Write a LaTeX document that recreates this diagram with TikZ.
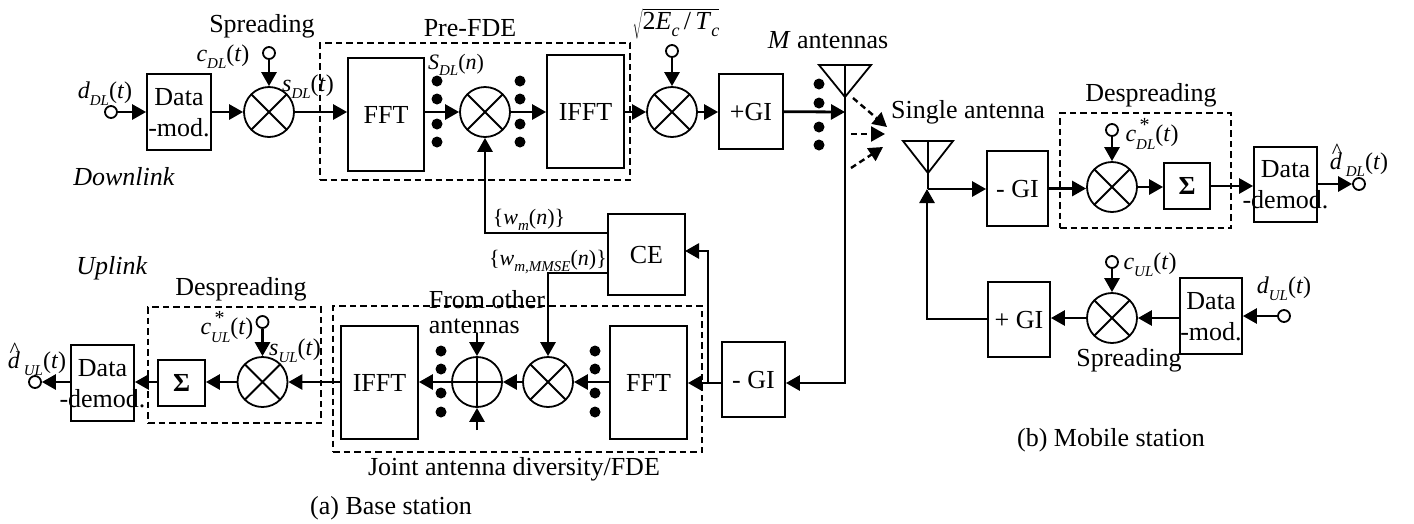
\documentclass[tikz,border=0pt]{standalone}
\usepackage{fontspec}
\setmainfont{Liberation Serif}
\usetikzlibrary{
  arrows.meta,
  positioning,
  calc
}
% italic symbol with a lowered index
\newcommand{\lowidx}[1]{\raisebox{-0.3em}{\fontsize{15}{15}\selectfont\textit{#1}}}
\newcommand{\sig}[2]{\textit{#1}\lowidx{#2}}
\newcommand{\sigstar}[2]{\textit{#1}\rlap{\raisebox{0.42em}{\fontsize{20}{20}\selectfont\,*}}\lowidx{#2}}
\newcommand{\sighat}[2]{\rlap{\kern0.08em\raisebox{0.46em}{\fontsize{22}{22}\selectfont\^{}}}\textit{#1}\,\lowidx{#2}}

\begin{document}
\begin{tikzpicture}[
  x=1pt, y=-1pt,
  every node/.style={font=\fontsize{26}{31}\selectfont},
  blockbox/.style={draw, line width=1.8pt, inner sep=0pt, align=center, text depth=0pt},
  dashbox/.style={draw, line width=2.4pt, dash pattern=on 6.5pt off 4pt, inner sep=0pt},
  mulnode/.style={draw, circle, line width=1.8pt, inner sep=0pt, minimum size=50pt,
    path picture={\draw[line width=1.8pt] (path picture bounding box.north west) -- (path picture bounding box.south east)
      (path picture bounding box.north east) -- (path picture bounding box.south west);}},
  addnode/.style={draw, circle, line width=1.8pt, inner sep=0pt, minimum size=50pt,
    path picture={\draw[line width=1.8pt] (path picture bounding box.north) -- (path picture bounding box.south)
      (path picture bounding box.east) -- (path picture bounding box.west);}},
  srcnode/.style={draw, circle, line width=1.8pt, inner sep=0pt, minimum size=12pt},
  dotnode/.style={fill, circle, inner sep=0pt, minimum width=9.5pt, minimum height=11pt},
  txt/.style={inner sep=0pt, align=center},
  symtxt/.style={inner sep=0pt, align=center, font=\fontsize{24}{28}\selectfont},
  symsmall/.style={inner sep=0pt, align=center, font=\fontsize{22}{26}\selectfont}
]
\useasboundingbox (0,0) rectangle (1414,523);

% -------------------------
% Nodes
% -------------------------
% Downlink transmitter
\node[srcnode] (srcD) at (111,112) {};
\node[blockbox, minimum width=64pt, minimum height=76pt] (modA) at (179,112) {Data\\\makebox[0pt]{-mod.}};
\node[mulnode] (mulA) at (269,112) {};
\node[srcnode] (srcA) at (269,53) {};
\node[dashbox, minimum width=310pt, minimum height=137pt] (preFDE) at (475,111.5) {};
\node[blockbox, minimum width=76pt, minimum height=113pt] (fftA) at (386,114.5) {FFT};
\node[mulnode] (mulB) at (485,112) {};
\node[blockbox, minimum width=77pt, minimum height=113pt] (ifftA) at (585.5,111.5) {IFFT};
\node[mulnode] (mulC) at (672,112) {};
\node[srcnode] (srcC) at (672,51) {};
\node[blockbox, minimum width=64pt, minimum height=75pt] (giA) at (751,111.5) {+GI};

% Channel estimation
\node[blockbox, minimum width=77pt, minimum height=81pt] (ceN) at (646.5,254.5) {CE};

% Uplink receiver
\node[blockbox, minimum width=63pt, minimum height=75pt] (giB) at (753.5,379.5) {- GI};
\node[dashbox, minimum width=369pt, minimum height=146pt] (jointFDE) at (517.5,379) {};
\node[blockbox, minimum width=77pt, minimum height=113pt] (fftB) at (648.5,382.5) {FFT};
\node[mulnode] (mulD) at (548,382) {};
\node[addnode] (addD) at (477,382) {};
\node[blockbox, minimum width=77pt, minimum height=113pt] (ifftB) at (379.5,382.5) {IFFT};
\node[dashbox, minimum width=173pt, minimum height=116pt] (despA) at (234.5,365) {};
\node[mulnode] (mulE) at (262.5,382) {};
\node[srcnode] (srcE) at (262.5,322) {};
\node[blockbox, minimum width=47pt, minimum height=46pt] (sumA) at (181.5,383) {\textbf{Σ}};
\node[blockbox, minimum width=63pt, minimum height=76pt] (demodA) at (102.5,383) {Data\\\makebox[0pt]{-demod.}};
\node[srcnode] (srcU) at (35,382) {};

% Mobile station
\node[blockbox, minimum width=61pt, minimum height=75pt] (giC) at (1017.5,188.5) {- GI};
\node[dashbox, minimum width=171pt, minimum height=115pt] (despB) at (1145.5,170.5) {};
\node[mulnode] (mulF) at (1112,187) {};
\node[srcnode] (srcF) at (1112,130) {};
\node[blockbox, minimum width=46pt, minimum height=46pt] (sumB) at (1187,186) {\textbf{Σ}};
\node[blockbox, minimum width=63pt, minimum height=75pt] (demodB) at (1285.5,184.5) {Data\\\makebox[0pt]{-demod.}};
\node[srcnode] (srcG) at (1359,184) {};
\node[blockbox, minimum width=62pt, minimum height=75pt] (giD) at (1019,319.5) {+ GI};
\node[mulnode] (mulG) at (1112,318) {};
\node[srcnode] (srcH) at (1112,262) {};
\node[blockbox, minimum width=62pt, minimum height=76pt] (modB) at (1211,316) {Data\\\makebox[0pt]{-mod.}};
\node[srcnode] (srcJ) at (1284,316) {};

% Parallel branches
\foreach \ypos [count=\i] in {81,99,124,142} {
  \node[dotnode] (dotA\i) at (437,\ypos) {};
  \node[dotnode] (dotB\i) at (520,\ypos) {};
}
\foreach \ypos [count=\i] in {84,103,127,145} {
  \node[dotnode] (dotC\i) at (819,\ypos) {};
}
\foreach \ypos [count=\i] in {351,369,393,412} {
  \node[dotnode] (dotD\i) at (441,\ypos) {};
  \node[dotnode] (dotE\i) at (595,\ypos) {};
}

% Junctions
\coordinate (antM)    at (845,65);
\coordinate (feedM)   at (845,112);
\coordinate (feedB)   at (845,383);
\coordinate (branch)  at (708,383);
\coordinate (ceIn)    at (685,251);
\coordinate (wmOut)   at (608,233);
\coordinate (mmseOut) at (608,273);
\coordinate (addTop)  at (477,333);
\coordinate (addBot)  at (477,430);
\coordinate (antS)    at (928,141);
\coordinate (feedS)   at (928,189);
\coordinate (feedU)   at (927,319);
\coordinate (beamA)   at (853,98);
\coordinate (beamAe)  at (887,127);
\coordinate (beamB)   at (851,134);
\coordinate (beamBe)  at (885,134);
\coordinate (beamC)   at (851,168);
\coordinate (beamCe)  at (883,147);

% -------------------------
% Edges
% -------------------------
\begin{scope}[>={Stealth[black, length=14pt, width=15pt, inset=0pt]}, line width=2.8pt]
% Downlink
\path [->] (srcD)  edge (modA);
\path [->] (modA)  edge (mulA);
\path [->] (srcA)  edge (mulA);
\path [->] (mulA)  edge (mulA -| fftA.west);
\path [->] (mulA -| fftA.east) edge (mulB);
\path [->] (mulB)  edge (mulB -| ifftA.west);
\path [->] (mulC -| ifftA.east) edge (mulC);
\path [->] (srcC)  edge (mulC);
\path [->] (mulC)  edge (mulC -| giA.west);
\path [->] (giA)   edge (feedM);

% Uplink
\draw [->] (feedM) -- (feedB) -- (feedB -| giB.east);
\path [->] (feedB -| giB.west) edge (feedB -| fftB.east);
\draw [->] (branch) |- (ceIn);
\draw [->] (wmOut) -| (mulB);
\draw [->] (mmseOut) -| (mulD);
\path [->] (mulD -| fftB.west) edge (mulD);
\path [->] (mulD) edge (addD);
\path [->] (addD) edge (addD -| ifftB.east);
\path [->] (addTop) edge (addD);
\path [->] (addBot) edge (addD);
\path [->] (mulE -| ifftB.west) edge (mulE);
\path [->] (srcE) edge (mulE);
\path [->] (mulE) edge (mulE -| sumA.east);
\path [->] (mulE -| sumA.west) edge (mulE -| demodA.east);
\path [->] (mulE -| demodA.west) edge (srcU);

% Mobile station
\path [->] (feedS) edge (feedS -| giC.west);
\path [->] (giC) edge (giC -| mulF.west);
\path [->] (srcF) edge (mulF);
\path [->] (mulF) edge (mulF -| sumB.west);
\path [->] (sumB) edge (sumB -| demodB.west);
\path [->] (srcG -| demodB.east) edge (srcG);
\path [->] (srcH) edge (mulG);
\path [->] (srcJ) edge (srcJ -| modB.east);
\path [->] (mulG -| modB.west) edge (mulG);
\path [->] (mulG) edge (mulG -| giD.east);
\draw [->] (feedU -| giD.west) -- (feedU) -- (feedS -| feedU);
\end{scope}

% Antennas
\draw[line width=1.8pt] (antM) ++(-26,0) -- ++(52,0) -- ++(-26,32) -- cycle;
\draw[line width=1.8pt] (antM) -- (feedM);
\draw[line width=1.8pt] (antS) ++(-25,0) -- ++(50,0) -- ++(-25,32) -- cycle;
\draw[line width=1.8pt] (antS) -- (feedS);

% Radio paths
\begin{scope}[>={Stealth[black, length=14pt, width=15pt, inset=0pt]}, line width=2.4pt, dash pattern=on 6pt off 4pt]
\path [->] (beamA) edge (beamAe);
\path [->] (beamB) edge (beamBe);
\path [->] (beamC) edge (beamCe);
\end{scope}

% -------------------------
% Labels
% -------------------------
\node[txt] (lblSprA)  at (262,26)   {Spreading};
\node[txt] (lblPre)   at (470,28)   {Pre-FDE};
\node[txt] (lblRoot)  at (676,24)   {$\sqrt{\mbox{2\textit{E}\raisebox{-0.28em}{\fontsize{18}{18}\selectfont\textit{c}}\,/\,\textit{T}\raisebox{-0.28em}{\fontsize{18}{18}\selectfont\textit{c}}}}$};
\node[txt] (lblM)     at (828,40)   {\textit{M} antennas};
\node[symtxt] (lblCdl)   at (223,57)   {\sig{c}{DL}(\textit{t})};
\node[symtxt] (lblDdl)   at (105,94)   {\sig{d}{DL}(\textit{t})};
\node[symtxt] (lblSdl)   at (308,87)   {\sig{s}{DL}(\textit{t})};
\node[symsmall] (lblSn)  at (456,65)   {\sig{S}{DL}(\textit{n})};
\node[txt] (lblDown)  at (124,177)  {\textit{Downlink}};
\node[txt] (lblUp)    at (112,268)  {\textit{Uplink}};
\node[txt] (lblDespA) at (241,289)  {Despreading};
\node[txt, align=left, font=\fontsize{26}{25}\selectfont] (lblOther) at (487,312) {From other\\antennas};
\node[symtxt] (lblCul)   at (227,327)  {\sigstar{c}{UL}(\textit{t})};
\node[symtxt] (lblSul)   at (295,351)  {\sig{s}{UL}(\textit{t})};
\node[symtxt] (lblHatU)  at (37,359)   {\sighat{d}{UL}(\textit{t})};
\node[txt] (lblJoint) at (514,469)  {Joint antenna diversity/FDE};
\node[txt] (lblBase)  at (391,508)  {(a) Base station};
\node[symsmall] (lblWm)    at (529,220)  {\{\sig{w}{m}(\textit{n})\}};
\node[symsmall] (lblWmmse) at (548,262)  {\{\sig{w}{m,MMSE}(\textit{n})\}};
\node[txt] (lblSingle) at (968,112) {Single antenna};
\node[txt] (lblDespB) at (1151,95)  {Despreading};
\node[symtxt] (lblCdlS)  at (1152,134) {\sigstar{c}{DL}(\textit{t})};
\node[symtxt] (lblHatD)  at (1359,160) {\sighat{d}{DL}(\textit{t})};
\node[symtxt] (lblCul2)  at (1150,265) {\sig{c}{UL}(\textit{t})};
\node[symtxt] (lblDul)   at (1284,289) {\sig{d}{UL}(\textit{t})};
\node[txt] (lblSprB)  at (1129,360) {Spreading};
\node[txt] (lblMob)   at (1111,440) {(b) Mobile station};

\end{tikzpicture}
\end{document}
